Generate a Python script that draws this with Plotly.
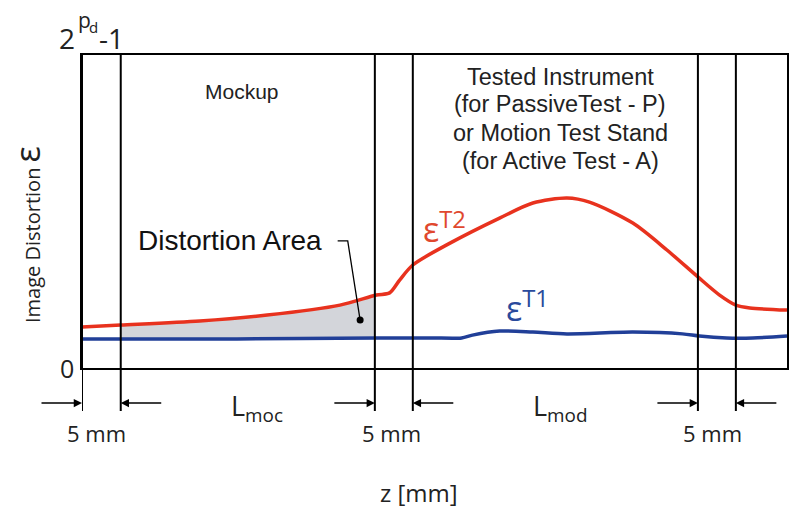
import numpy as np
import plotly.graph_objects as go

# ---- data (z in mm, distortion in % of 2^pd-1) ----
red_z = [0, 5, 15.2, 23.9, 33.3, 38.0, 39.7, 41.0, 42.7, 47.5, 53.9, 58.2, 62.6, 65.5, 71.1, 75.5, 79.5, 82.3, 84.4, 86.2, 91]
red_e = [13.1, 13.7, 15.0, 16.9, 20.1, 23.3, 24.0, 28.1, 32.9, 39.9, 47.9, 52.7, 54.3, 53.0, 46.3, 37.7, 29.1, 23.3, 20.1, 19.2, 18.5]
blue_z = [0, 20, 38, 45, 49, 50.4, 53.9, 58.2, 62.6, 71.1, 77.5, 79.7, 83.2, 86.6, 91]
blue_e = [9.3, 9.3, 9.6, 9.6, 9.6, 10.5, 11.8, 11.5, 10.9, 11.5, 10.9, 10.2, 9.6, 9.6, 10.2]
section_z = [0, 5, 37.8, 42.7, 79.5, 84.4]   # boundaries of 5 mm zones
z_max = 91
e_max = 100

RED = "#e8321e"
BLUE = "#213f98"
GREY = "#d3d5da"

# plot area in page pixels (the page body adds an 8 px offset)
OFF = 8
L, T, R, B = 82, 55, 787, 368
W, H = R - L, B - T
FIG_W, FIG_H = 800 - OFF, 511 - OFF
def PX(px):
    return (px - L) / W
def PY(py):
    return (B - py) / H

fig = go.Figure()

# distortion area (between the curves inside the mockup zone)
a, b = section_z[1], section_z[2]
bz = [a] + [z for z in blue_z if a < z < b] + [b]
rz = [a] + [z for z in red_z if a < z < b] + [b]
fig.add_trace(go.Scatter(x=bz, y=np.interp(bz, blue_z, blue_e), mode="lines",
                         line=dict(width=0, color=GREY, shape="spline"), showlegend=False, hoverinfo="skip"))
fig.add_trace(go.Scatter(x=rz, y=np.interp(rz, red_z, red_e), mode="lines", fill="tonexty",
                         fillcolor=GREY, line=dict(width=0, color=GREY, shape="spline"),
                         showlegend=False, hoverinfo="skip"))

fig.add_trace(go.Scatter(x=blue_z, y=blue_e, mode="lines",
                         line=dict(color=BLUE, width=3.5, shape="spline", smoothing=0.8), showlegend=False))
fig.add_trace(go.Scatter(x=red_z, y=red_e, mode="lines",
                         line=dict(color=RED, width=3.5, shape="spline", smoothing=0.8), showlegend=False))

# pointer dot of "Distortion Area"
fig.add_trace(go.Scatter(x=[35.9], y=[15.3], mode="markers",
                         marker=dict(color="black", size=7), showlegend=False))
fig.add_shape(type="path", xref="x", yref="y", path="M 33.0 40.6 L 34.3 40.6 L 35.9 15.3",
              line=dict(color="black", width=1.3))

# vertical section lines (extend below the axis)
for z in section_z:
    fig.add_shape(type="line", xref="x", yref="paper", x0=z, x1=z, y0=PY(411), y1=1,
                  line=dict(color="black", width=2))

# dimension arrows
arrow_y = PY(403)
for i, z in enumerate(section_z):
    direction = -1 if i % 2 == 0 else 1   # tail on outside
    fig.add_annotation(x=z, y=arrow_y, xref="x", yref="paper", ax=42 * direction, ay=0,
                       axref="pixel", ayref="pixel", showarrow=True, text="",
                       arrowhead=2, arrowsize=1.1, arrowwidth=1.5, arrowcolor="black")

SANS = "Open Sans"
ARIAL = "Liberation Sans"

def txt(text, x, y, size, xref="paper", yref="paper", family=SANS, color="#222", **kw):
    fig.add_annotation(text=text, x=x, y=y, xref=xref, yref=yref, showarrow=False,
                       xanchor="center", yanchor="middle",
                       font=dict(family=family, size=size, color=color), **kw)

# dimension labels
for cx in (96, 391, 712):
    txt("5 mm", PX(cx), PY(433), 22)
txt("L<sub>moc</sub>", PX(257), PY(408), 27)
txt("L<sub>mod</sub>", PX(560), PY(408), 27)
txt("z [mm]", PX(419), PY(492), 24)

# y-axis labels
txt("0", PX(67), PY(368), 25)
txt("2", PX(67), PY(38), 28)
txt("p", PX(84), PY(20), 21)
txt("d", PX(93), PY(27), 15)
txt("-1", PX(111), PY(38), 28)
txt("Image Distortion <span style='font-size:34px'>ε</span>", PX(27), PY(235), 20, textangle=-90)

# region texts
txt("Mockup", PX(242), PY(91), 21, family=ARIAL)
inst_lines = ["Tested Instrument", "(for PassiveTest - P)", "or Motion Test Stand", "(for Active Test - A)"]
for line, cy in zip(inst_lines, (77, 104, 133, 161)):
    txt(line, PX(560), PY(cy), 23.5, family=ARIAL)
txt("Distortion Area", PX(230), PY(240), 28, family=ARIAL, color="#111")

# curve labels
txt("ε<sup>T2</sup>", 46.8, 45.0, 34, xref="x", yref="y", color="#e0482e")
txt("ε<sup>T1</sup>", 57.5, 19.8, 34, xref="x", yref="y", color="#2a4a9c")

fig.update_xaxes(range=[0, z_max], showgrid=False, zeroline=False, showticklabels=False, ticks="",
                 showline=True, linecolor="black", linewidth=2, mirror=True)
fig.update_yaxes(range=[0, e_max], showgrid=False, zeroline=False, showticklabels=False, ticks="",
                 showline=True, linecolor="black", linewidth=2, mirror=True)
fig.update_layout(width=FIG_W, height=FIG_H,
                  margin=dict(l=L - OFF, r=FIG_W - (R - OFF), t=T - OFF, b=FIG_H - (B - OFF)),
                  plot_bgcolor="white", paper_bgcolor="white", showlegend=False)

fig.write_html("out.html")
